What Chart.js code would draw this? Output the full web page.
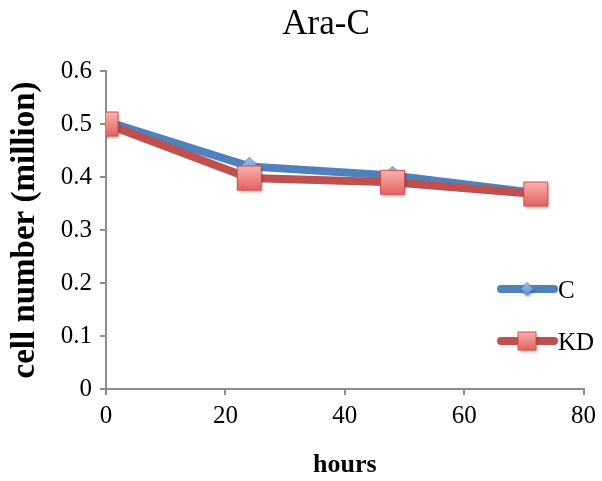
<!DOCTYPE html>
<html>
<head>
<meta charset="utf-8">
<title>Ara-C</title>
<script src="https://cdn.jsdelivr.net/npm/chart.js@4.4.1/dist/chart.umd.min.js"></script>
<style>
  html, body { margin: 0; padding: 0; background: #fff; }
  #wrap { width: 602px; height: 481px; }
</style>
</head>
<body>
<div id="wrap"><canvas id="cells"></canvas></div>
<script>
// cell counts (million) after Ara-C treatment
const hours = [0, 24, 48, 72];
const controlCells = [0.505, 0.42, 0.403, 0.37];
const kdCells = [0.5, 0.398, 0.39, 0.368];
const seriesNames = ['C', 'KD'];
const xTicks = [0, 20, 40, 60, 80];
const yTicks = [0, 0.1, 0.2, 0.3, 0.4, 0.5, 0.6];

const SERIF = '"Liberation Serif", "Times New Roman", serif';
const BLUE = '#4f81bd';
const RED = '#c0504d';
const AXIS = '#8e8e8e';

// small gradient markers with a drop shadow, used as pointStyle images
function makeMarker(shape, size, top, bottom, edge) {
  const pad = 4;
  const c = document.createElement('canvas');
  c.width = c.height = size + pad * 2;
  const g = c.getContext('2d');
  const grad = g.createLinearGradient(0, pad, 0, pad + size);
  grad.addColorStop(0, top);
  grad.addColorStop(1, bottom);
  g.beginPath();
  if (shape === 'square') {
    g.rect(pad + 0.5, pad + 0.5, size - 1, size - 1);
  } else {
    const m = pad + size / 2;
    g.moveTo(m, pad);
    g.lineTo(pad + size, m);
    g.lineTo(m, pad + size);
    g.lineTo(pad, m);
    g.closePath();
  }
  g.shadowColor = 'rgba(0,0,0,0.35)';
  g.shadowBlur = 3;
  g.shadowOffsetX = 1;
  g.shadowOffsetY = 2;
  g.fillStyle = grad;
  g.fill();
  g.shadowColor = 'transparent';
  g.lineWidth = 1;
  g.strokeStyle = edge;
  g.stroke();
  return c;
}

const diamondBig = makeMarker('diamond', 18, '#9cc2f0', '#5b8fd0', '#4a7cbc');
const squareBig = makeMarker('square', 25, '#f9b4b1', '#e5605b', '#c9504c');
const diamondSmall = makeMarker('diamond', 13, '#9cc2f0', '#5b8fd0', '#4a7cbc');
const squareSmall = makeMarker('square', 19, '#f9b4b1', '#e5605b', '#c9504c');

// title and legend are drawn by hand so they sit where the layout wants them
const decorations = {
  id: 'decorations',
  afterDraw(chart) {
    const ctx = chart.ctx;
    ctx.save();
    ctx.fillStyle = '#000';
    ctx.font = '35px ' + SERIF;
    ctx.textAlign = 'center';
    ctx.textBaseline = 'alphabetic';
    ctx.fillText('Ara-C', 326, 34);

    const rows = [
      { name: seriesNames[0], color: BLUE, marker: diamondSmall, y: 289 },
      { name: seriesNames[1], color: RED, marker: squareSmall, y: 341 }
    ];
    ctx.font = '25px ' + SERIF;
    ctx.textAlign = 'left';
    ctx.textBaseline = 'middle';
    rows.forEach(r => {
      ctx.strokeStyle = r.color;
      ctx.lineWidth = 8;
      ctx.lineCap = 'round';
      ctx.beginPath();
      ctx.moveTo(501, r.y);
      ctx.lineTo(554, r.y);
      ctx.stroke();
      ctx.drawImage(r.marker, 527 - r.marker.width / 2, r.y - r.marker.height / 2);
      ctx.fillText(r.name, 558, r.y + 2);
    });
    ctx.restore();
  }
};

new Chart(document.getElementById('cells'), {
  type: 'line',
  data: {
    datasets: [
      {
        label: seriesNames[0],
        data: hours.map((h, i) => ({ x: h, y: controlCells[i] })),
        borderColor: BLUE,
        borderWidth: 8,
        pointStyle: diamondBig,
        order: 1
      },
      {
        label: seriesNames[1],
        data: hours.map((h, i) => ({ x: h, y: kdCells[i] })),
        borderColor: RED,
        borderWidth: 8,
        pointStyle: squareBig,
        order: 0
      }
    ]
  },
  options: {
    responsive: true,
    maintainAspectRatio: false,
    animation: false,
    layout: { padding: { top: 71, right: 16, bottom: 0, left: 0 } },
    plugins: {
      legend: { display: false },
      tooltip: { enabled: false }
    },
    scales: {
      x: {
        type: 'linear',
        min: xTicks[0],
        max: xTicks[xTicks.length - 1],
        afterBuildTicks: s => { s.ticks = xTicks.map(v => ({ value: v })); },
        afterFit: s => { s.height = 92; },
        border: { color: AXIS, width: 2 },
        grid: { drawOnChartArea: false, color: AXIS, lineWidth: 2, tickLength: 6 },
        ticks: { color: '#000', font: { family: SERIF, size: 25 }, padding: 6, maxRotation: 0 },
        title: {
          display: true,
          text: 'hours',
          color: '#000',
          font: { family: SERIF, size: 26, weight: 'bold' },
          padding: { top: 0, bottom: 0 }
        }
      },
      y: {
        min: yTicks[0],
        max: yTicks[yTicks.length - 1],
        afterBuildTicks: s => { s.ticks = yTicks.map(v => ({ value: v })); },
        afterFit: s => { s.width = 106; },
        border: { color: AXIS, width: 2 },
        grid: { drawOnChartArea: false, color: AXIS, lineWidth: 2, tickLength: 6 },
        ticks: {
          color: '#000',
          font: { family: SERIF, size: 25 },
          padding: 8,
          callback: v => (v === 0 ? '0' : v.toFixed(1))
        },
        title: {
          display: true,
          text: 'cell number (million)',
          color: '#000',
          font: { family: SERIF, size: 33, weight: 'bold' },
          padding: { top: 6, bottom: 0 }
        }
      }
    }
  },
  plugins: [decorations]
});
</script>
</body>
</html>
